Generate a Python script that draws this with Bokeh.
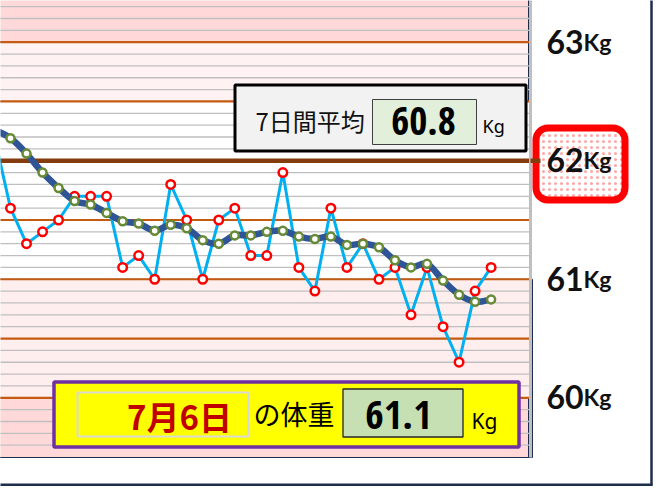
import numpy as np
from bokeh.plotting import figure
from bokeh.models import Range1d
from bokeh.core.properties import value
from bokeh.embed import file_html
from bokeh.resources import INLINE

# ---------------- data ----------------
dates = ["6/%d" % d for d in range(5, 31)] + ["7/%d" % d for d in range(1, 7)]
daily = [62.2, 61.6, 61.3, 61.4, 61.5, 61.7, 61.7, 61.7, 61.1, 61.2, 61.0,
         61.8, 61.5, 61.0, 61.5, 61.6, 61.2, 61.2, 61.9, 61.1, 60.9, 61.6,
         61.1, 61.3, 61.0, 61.1, 60.7, 61.1, 60.6, 60.3, 60.9, 61.1]
avg7 = [62.26, 62.19, 62.06, 61.90, 61.77, 61.66, 61.63, 61.56, 61.49, 61.47,
        61.41, 61.46, 61.43, 61.33, 61.30, 61.37, 61.37, 61.40, 61.41, 61.36,
        61.34, 61.36, 61.29, 61.30, 61.27, 61.16, 61.10, 61.13, 60.99, 60.87,
        60.81, 60.83]
major_ticks = [60.0, 60.5, 61.0, 61.5, 62.5, 63.0]
target = 62.0
minor_ticks = [round(59.5 + 0.1 * k, 1) for k in range(1, 39) if k % 5 != 0]
right_ticks = [63, 62, 61, 60]
right_labels = ["63", "62", "61", "60"]
unit = "Kg"
avg_title = "7日間平均"
avg_value = "60.8"
today_label = "7月6日"
today_text = "の体重"
today_value = "61.1"

x = list(range(len(daily)))

# --------- pixel helpers (layout only) ---------
def X(px):
    return (px + 6.02) / 16.02

def Y(py):
    return 63.0 - (py - 41.7) / 118.53

def TY(py, shift):
    # text baseline position, corrected for the renderer's baseline offset
    return Y(py - shift)

W, H = 653, 486
p = figure(width=W, height=H, output_backend="svg", toolbar_location=None,
           tools="", x_axis_location=None, y_axis_location=None,
           x_range=Range1d(X(0), X(W)), y_range=Range1d(Y(H), Y(0)),
           min_border=0, outline_line_color=None,
           background_fill_color="white", border_fill_color="white")
p.xgrid.visible = False
p.ygrid.visible = False

NAVY = "#1F2D4D"
NARROW = value("'Open Sans Condensed', 'Roboto Condensed', 'DejaVu Sans Condensed', sans-serif")
L, R = X(-5), X(530)

# bands
p.quad(left=[L], right=[X(532)], top=[61.0], bottom=[Y(457)],
       fill_color="#FFEEEE", line_color=NAVY, line_width=1)
p.quad(left=[L], right=[X(528)], top=[60.0], bottom=[Y(457)],
       fill_color="#FFD9D9", line_color=NAVY, line_width=1)
p.quad(left=[L], right=[X(528)], top=[Y(-5)], bottom=[63.0],
       fill_color="#FFD9D9", line_color=NAVY, line_width=1)
p.quad(left=[L], right=[X(528)], top=[63.0], bottom=[62.5],
       fill_color="#FFF2F2", line_color=NAVY, line_width=1)

# grid lines
p.segment(x0=[L] * len(minor_ticks), x1=[R] * len(minor_ticks),
          y0=minor_ticks, y1=minor_ticks, line_color="#BFBFBF", line_width=1.3)
p.segment(x0=[L] * len(major_ticks), x1=[R] * len(major_ticks),
          y0=major_ticks, y1=major_ticks, line_color="#C55A11", line_width=2.2)
p.segment(x0=[L], x1=[X(531)], y0=[target], y1=[target],
          line_color="#843C0C", line_width=4.5)

# plot-area right border
p.segment(x0=[X(530)], x1=[X(530)], y0=[Y(-5)], y1=[Y(457)],
          line_color="#BFBFBF", line_width=3)

# daily series
p.line(x, daily, line_color="#00B0F0", line_width=3)
p.scatter(x, daily, marker="circle", size=8.5, line_color="#FF0000",
          line_width=2.5, fill_color="white")

# smoothed 7-day average
xs = np.array(x, dtype=float)
ys = np.array(avg7, dtype=float)
n = len(xs)
t = 1.0 / 6.0
bx0, by0, bx1, by1, c0x, c0y, c1x, c1y = ([] for _ in range(8))
for i in range(n - 1):
    im = max(i - 1, 0)
    ip = min(i + 2, n - 1)
    bx0.append(xs[i]); by0.append(ys[i])
    bx1.append(xs[i + 1]); by1.append(ys[i + 1])
    c0x.append(xs[i] + (xs[i + 1] - xs[im]) * t)
    c0y.append(ys[i] + (ys[i + 1] - ys[im]) * t)
    c1x.append(xs[i + 1] - (xs[ip] - xs[i]) * t)
    c1y.append(ys[i + 1] - (ys[ip] - ys[i]) * t)
p.bezier(x0=bx0, y0=by0, x1=bx1, y1=by1, cx0=c0x, cy0=c0y, cx1=c1x, cy1=c1y,
         line_color="#2F5597", line_width=6.5, line_cap="round")
p.scatter(x, avg7, marker="circle", size=8, line_color="#678A36",
          line_width=2.5, fill_color="white")

# target label box (rounded, dotted)
p.quad(left=[X(535.5)], right=[X(624.5)], top=[Y(127.5)], bottom=[Y(199.5)],
       border_radius=12, fill_color="white", hatch_pattern="dot",
       hatch_color="#FF0000", hatch_scale=6, hatch_weight=0.5,
       hatch_alpha=0.35, line_color="#FF0000", line_width=7)
p.segment(x0=[X(530)], x1=[X(540)], y0=[target], y1=[target],
          line_color="#843C0C", line_width=4.5)

# right side labels
lab_y = [v - 11.5 / 118.53 + 12 / 118.53 for v in right_ticks]
p.text(x=[X(546)] * 4, y=lab_y, text=right_labels, text_font=value("Lato"),
       text_font_size="32px", text_font_style="bold", text_color="#111111",
       text_align="left", text_baseline="alphabetic")
p.text(x=[X(583)] * 4, y=lab_y, text=[unit] * 4, text_font=value("Lato"),
       text_font_size="23px", text_font_style="bold", text_color="#111111",
       text_align="left", text_baseline="alphabetic")

# 7-day average box
p.quad(left=[X(234.5)], right=[X(525.5)], top=[Y(84.5)], bottom=[Y(150.5)],
       fill_color="#F2F2F2", line_color="black", line_width=3)
p.quad(left=[X(372)], right=[X(476)], top=[Y(99)], bottom=[Y(144)],
       fill_color="#E2EFDA", line_color="#404040", line_width=1)
p.text(x=[X(255)], y=[TY(132, 12)], text=[avg_title],
       text_font=value("Noto Sans CJK JP"), text_font_size="24px",
       text_color="#111111", text_align="left", text_baseline="alphabetic")
p.text(x=[X(423)], y=[TY(136, 16)], text=[avg_value],
       text_font=NARROW, text_font_size="39px",
       text_font_style="bold", text_color="black", text_align="center",
       text_baseline="alphabetic")
p.text(x=[X(482)], y=[TY(133, 8)], text=[unit], text_font=value("Noto Sans"),
       text_font_size="18px", text_color="black", text_align="left",
       text_baseline="alphabetic")

# today box
p.quad(left=[X(53.5)], right=[X(518.5)], top=[Y(381.5)], bottom=[Y(446.5)],
       fill_color="#FFFF00", line_color="#7030A0", line_width=3.5)
p.quad(left=[X(77)], right=[X(248)], top=[Y(392)], bottom=[Y(436)],
       fill_color="#FFFF00", line_color="#D9D9D9", line_width=2)
p.quad(left=[X(342.5)], right=[X(462.5)], top=[Y(388.5)], bottom=[Y(436.5)],
       fill_color="#C6E0B4", line_color="#262626", line_width=1.3)
p.text(x=[X(179)], y=[TY(430, 15)], text=[today_label],
       text_font=value("Noto Sans CJK JP"), text_font_size="33px",
       text_font_style="bold", text_color="#C00000", text_align="center",
       text_baseline="alphabetic")
p.text(x=[X(253)], y=[TY(426, 13)], text=[today_text],
       text_font=value("Noto Sans CJK JP"), text_font_size="27px",
       text_color="black", text_align="left", text_baseline="alphabetic")
p.text(x=[X(398)], y=[TY(430, 16)], text=[today_value],
       text_font=NARROW, text_font_size="40px",
       text_font_style="bold", text_color="black", text_align="center",
       text_baseline="alphabetic")
p.text(x=[X(471)], y=[TY(430, 10)], text=[unit], text_font=value("Noto Sans"),
       text_font_size="21px", text_color="black", text_align="left",
       text_baseline="alphabetic")

# outer navy frame lines (pulled in to the figure edge)
p.segment(x0=[X(651)], x1=[X(651)], y0=[Y(-5)], y1=[Y(485)],
          line_color=NAVY, line_width=2.5)
p.segment(x0=[X(-5)], x1=[X(652)], y0=[Y(484.5)], y1=[Y(484.5)],
          line_color=NAVY, line_width=3)

open("out.html", "w").write(file_html(p, INLINE))
